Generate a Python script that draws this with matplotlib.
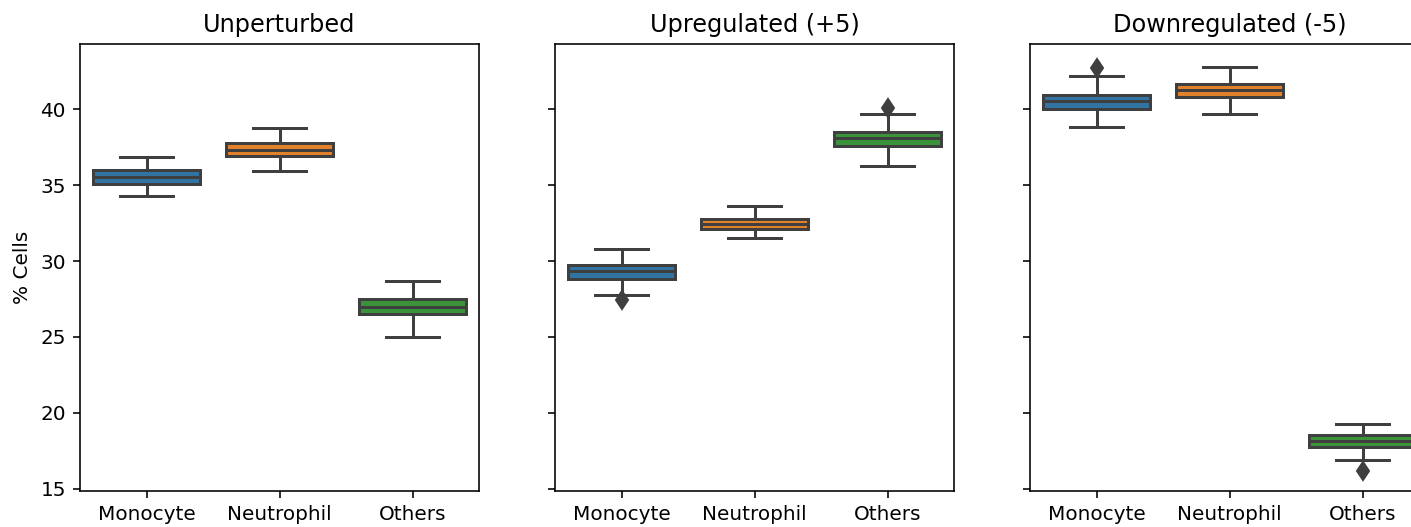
import matplotlib
matplotlib.use("Agg")
import matplotlib.pyplot as plt

categories = ["Monocyte", "Neutrophil", "Others"]
titles = ["Unperturbed", "Upregulated (+5)", "Downregulated (-5)"]
colors = ["#3274a1", "#e1812c", "#3a923a"]

# per panel: [Monocyte, Neutrophil, Others]
whislo = [[34.27, 35.91, 25.02], [27.75, 31.51, 36.28], [38.84, 39.67, 16.92]]
q1 =     [[35.10, 36.94, 26.48], [28.85, 32.13, 37.59], [40.00, 40.81, 17.74]]
med =    [[35.56, 37.33, 26.99], [29.35, 32.45, 38.08], [40.55, 41.27, 18.13]]
q3 =     [[36.00, 37.81, 27.53], [29.72, 32.78, 38.51], [40.96, 41.66, 18.52]]
whishi = [[36.83, 38.77, 28.67], [30.81, 33.61, 39.72], [42.19, 42.78, 19.28]]
fliers = [[[], [], []], [[27.42], [], [40.11]], [[42.74], [], [16.20]]]

W, H = 1411, 527
DPI = 144
fig = plt.figure(figsize=(W / DPI, H / DPI), dpi=DPI)
lefts = [80, 555, 1030]
aw = 399
top, bottom = 44, 491
gray = "#3f3f3f"
for p in range(3):
    ax = fig.add_axes([lefts[p] / W, (H - bottom) / H, aw / W, (bottom - top) / H])
    stats = []
    for i, c in enumerate(categories):
        stats.append(dict(label=c, whislo=whislo[p][i], q1=q1[p][i], med=med[p][i],
                          q3=q3[p][i], whishi=whishi[p][i], fliers=fliers[p][i]))
    bp = ax.bxp(stats, positions=range(3), widths=0.8, patch_artist=True,
                boxprops=dict(edgecolor=gray, linewidth=1.5),
                whiskerprops=dict(color=gray, linewidth=1.5),
                capprops=dict(color=gray, linewidth=1.5),
                medianprops=dict(color=gray, linewidth=1.5),
                flierprops=dict(marker="d", markerfacecolor=gray, markeredgecolor=gray,
                                markersize=6.5, linestyle="none"),
                capwidths=0.4)
    for patch, col in zip(bp["boxes"], colors):
        patch.set_facecolor(col)
    ax.set_xlim(-0.5, 2.5)
    ax.set_ylim(14.85, 44.3)
    ax.set_yticks([15, 20, 25, 30, 35, 40])
    ax.set_xticks(range(3))
    ax.set_xticklabels(categories, fontsize=10)
    ax.set_title(titles[p], fontsize=12)
    ax.tick_params(axis="y", labelsize=10)
    if p == 0:
        ax.set_ylabel("% Cells", fontsize=10)
    else:
        ax.set_yticklabels([])

fig.savefig("out.png", dpi=DPI)
